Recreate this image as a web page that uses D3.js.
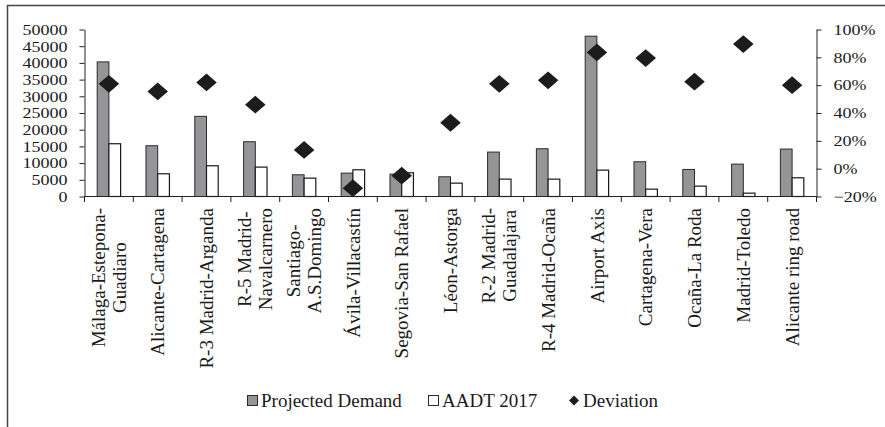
<!DOCTYPE html>
<html>
<head>
<meta charset="utf-8">
<script src="https://cdn.jsdelivr.net/npm/d3@7"></script>
<style>
  body { margin: 0; background: #fff; }
  svg text { font-family: "Liberation Serif", "Times New Roman", serif; fill: #1a1a1a; }
</style>
</head>
<body>
<svg width="885" height="427"></svg>
<script>
// road sections (multi-line labels split on "\n")
var sections = [
  "Málaga-Estepona-\nGuadiaro", "Alicante-Cartagena", "R-3 Madrid-Arganda",
  "R-5 Madrid-\nNavalcarnero", "Santiago-\nA.S.Domingo", "Ávila-Villacastín",
  "Segovia-San Rafael", "Léon-Astorga", "R-2 Madrid-\nGuadalajara",
  "R-4 Madrid-Ocaña", "Airport Axis", "Cartagena-Vera", "Ocaña-La Roda",
  "Madrid-Toledo", "Alicante ring road"
];
var projectedDemand = [40300, 15200, 24000, 16400, 6500, 7000, 6700, 5900, 13300, 14300, 48000, 10400, 8100, 9700, 14200];
var aadt2017 = [15800, 6800, 9200, 8800, 5500, 8000, 7100, 4000, 5200, 5200, 7900, 2200, 3100, 1000, 5600];
var deviation = [0.61, 0.555, 0.62, 0.46, 0.135, -0.14, -0.05, 0.33, 0.61, 0.635, 0.835, 0.795, 0.625, 0.895, 0.60];
var leftTicks = [0, 5000, 10000, 15000, 20000, 25000, 30000, 35000, 40000, 45000, 50000];
var rightTicks = [-0.2, 0, 0.2, 0.4, 0.6, 0.8, 1.0];
var legendItems = ["Projected Demand", "AADT 2017", "Deviation"];

var svg = d3.select("svg");

// outer frame (right / bottom edges fall outside the picture)
svg.append("rect")
  .attr("x", 7.5).attr("y", 5.5)
  .attr("width", 1000).attr("height", 1000)
  .attr("fill", "none").attr("stroke", "#444").attr("stroke-width", 1.5);

var x = d3.scaleBand().domain(d3.range(sections.length)).range([84.5, 816.5]);
var yLeft = d3.scaleLinear().domain([0, 50000]).range([196.5, 29.5]);
var yRight = d3.scaleLinear().domain([-0.2, 1]).range([196.5, 29.5]);

var bw = x.bandwidth() * 0.24;

// left axis
var gl = svg.append("g").attr("transform", "translate(84.5,0)")
  .call(d3.axisLeft(yLeft).tickValues(leftTicks).tickSize(5).tickSizeOuter(0).tickPadding(12).tickFormat(d3.format("d")));
// right axis
var gr = svg.append("g").attr("transform", "translate(816.5,0)")
  .call(d3.axisRight(yRight).tickValues(rightTicks).tickSize(5).tickSizeOuter(0).tickPadding(12).tickFormat(d3.format(".0%")));
[gl, gr].forEach(function(g) {
  g.select(".domain").attr("stroke", "#222");
  g.selectAll(".tick line").attr("stroke", "#222");
  g.selectAll("text").attr("font-size", 15).attr("font-family", null).attr("fill", "#1a1a1a")
    .each(function() {
      // tick labels in the picture are wider than plain Times at this height
      var w = this.getComputedTextLength();
      d3.select(this).attr("textLength", w * 1.2).attr("lengthAdjust", "spacingAndGlyphs");
    });
});

// bars
svg.append("g").selectAll("rect")
  .data(projectedDemand).enter().append("rect")
  .attr("x", function(d, i) { return x(i) + x.bandwidth() / 2 - bw; })
  .attr("y", function(d) { return yLeft(d); })
  .attr("width", bw)
  .attr("height", function(d) { return yLeft(0) - yLeft(d); })
  .attr("fill", "#959597").attr("stroke", "#2a2a2a").attr("stroke-width", 1);

svg.append("g").selectAll("rect")
  .data(aadt2017).enter().append("rect")
  .attr("x", function(d, i) { return x(i) + x.bandwidth() / 2; })
  .attr("y", function(d) { return yLeft(d); })
  .attr("width", bw)
  .attr("height", function(d) { return yLeft(0) - yLeft(d); })
  .attr("fill", "#fff").attr("stroke", "#1a1a1a").attr("stroke-width", 1.2);

// category axis with ticks on band edges
svg.append("line")
  .attr("x1", 84.5).attr("x2", 816.5).attr("y1", 196.5).attr("y2", 196.5)
  .attr("stroke", "#222");
svg.append("g").selectAll("line")
  .data(d3.range(sections.length + 1)).enter().append("line")
  .attr("x1", function(i) { return 84.5 + i * x.step(); })
  .attr("x2", function(i) { return 84.5 + i * x.step(); })
  .attr("y1", 196.5).attr("y2", 202)
  .attr("stroke", "#222");

// deviation markers
var diamond = d3.symbol().type(d3.symbolSquare).size(175);
svg.append("g").selectAll("path")
  .data(deviation).enter().append("path")
  .attr("d", diamond)
  .attr("transform", function(d, i) {
    return "translate(" + (x(i) + x.bandwidth() / 2) + "," + yRight(d) + ") scale(1.1,0.95) rotate(45)";
  })
  .attr("fill", "#1c1c1c");

// rotated category labels, lines centred on each other, top edge at y=208
var labels = svg.append("g").selectAll("g")
  .data(sections).enter().append("g");
labels.each(function(d, i) {
  var g = d3.select(this);
  var lines = d.split("\n");
  var lh = 21;
  lines.forEach(function(t, j) {
    g.append("text")
      .attr("font-size", 19)
      .attr("text-anchor", "middle")
      .attr("dy", "0.35em")
      .attr("y", (j - (lines.length - 1) / 2) * lh)
      .text(t);
  });
  var maxLen = d3.max(g.selectAll("text").nodes(), function(n) { return n.getComputedTextLength(); });
  g.attr("transform", "translate(" + (x(i) + x.bandwidth() / 2) + "," + (208 + maxLen / 2) + ") rotate(-90)");
});

// legend
var legend = svg.append("g").attr("transform", "translate(0,400)");
var lg = legend.selectAll("g").data(legendItems).enter().append("g")
  .attr("transform", function(d, i) { return "translate(" + [247, 428, 568][i] + ",0)"; });
lg.each(function(d, i) {
  var g = d3.select(this);
  if (i < 2) {
    g.append("rect").attr("x", 0.5).attr("y", -4.5).attr("width", 10).attr("height", 10)
      .attr("fill", i == 0 ? "#959597" : "#fff").attr("stroke", "#2a2a2a");
  } else {
    g.append("path").attr("d", d3.symbol().type(d3.symbolSquare).size(50))
      .attr("transform", "translate(6,0.5) rotate(45)").attr("fill", "#1c1c1c");
  }
  g.append("text").attr("x", i == 2 ? 15 : 14).attr("dy", "0.35em")
    .attr("font-size", 19).text(d);
});
</script>
</body>
</html>
